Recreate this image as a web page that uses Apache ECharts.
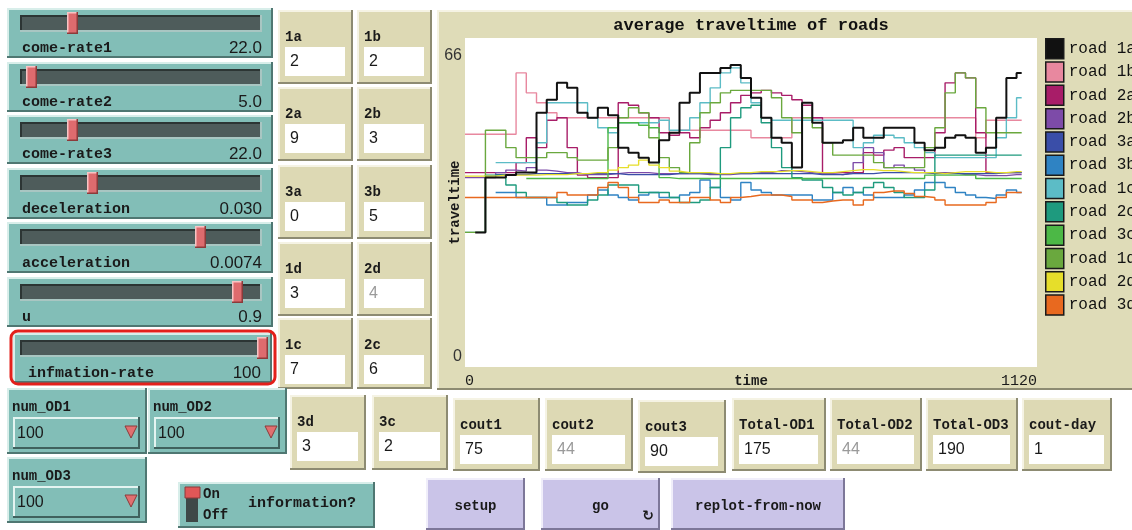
<!DOCTYPE html>
<html>
<head>
<meta charset="utf-8">
<title>average traveltime of roads</title>
<script src="https://cdn.jsdelivr.net/npm/echarts/dist/echarts.min.js"></script>
<style>
html, body { margin: 0; padding: 0; background: #fff; }
#main { width: 1132px; height: 530px; }
</style>
</head>
<body>
<div id="main"></div>
<script>
// time samples (ticks) of the plot
var times = [0, 20, 40, 60, 80, 100, 120, 140, 160, 180,
  200, 220, 240, 260, 280, 300, 320, 340, 360, 380,
  400, 420, 440, 460, 480, 500, 520, 540, 560, 580,
  600, 620, 640, 660, 680, 700, 720, 740, 760, 780,
  800, 820, 840, 860, 880, 900, 920, 940, 960, 980,
  1000, 1020, 1040, 1060, 1080, 1090];

var road1a = [null, 27, 38, 38, 38.5, 39, 39, 51, 53.6, 57,
  56, 51, 50, 52, 50.5, 44, 43, 42, 41, 45.5,
  47, 53, 55, 59, 59, 60, 60.6, 58, 54, 50,
  46, 45, 40, 53, 49, 45, 45, 45.5, 48, 46,
  46, 48, 48, 48, 45, 43.5, 44, 46, 46.5, 46,
  43, 44, 50, 58, 59, 59];
var road1b = [46.7, 46.7, 46.7, 46.7, 46.7, 59, 55, 53, 51, 50,
  50, 50, 50, 50, 50, 50, 50, 50, 50, 50,
  47, 47.5, 47.5, 47.5, 47.5, 47.5, 47.5, 47.5, 46, 46,
  46, 46, 50, 50, 50, 50, 50, 50, 50, 50,
  50, 50, 50, 50, 50, 50, 50, 50, 50, 50,
  46, 49.5, 49.5, 49.5, 49.5, 49.5];
var road2a = [39, 39, 39, 39, 39, 41, 46, 44, 49.5, 50,
  44, 38.5, 38, 38, 38, 53, 52.5, 51, 50, 47,
  46.5, 47, 46, 48, 49.5, 51, 53, 54.5, 55, 55.5,
  55, 54.5, 53.6, 52.5, 50, 39, 39, 39, 39, 43,
  42.5, 43.5, 44, 42, 42, 42, 47, 57, 59, 58,
  47, 39, 39, 39, 39, 39];
var road2b = [38, 38, 38, 39, 39.5, 39.3, 40, 39.5, 39.3, 39,
  39, 38.6, 38.6, 38.6, 38.8, 39, 39, 39, 38.8, 38.8,
  38.8, 38.8, 38.8, 38.6, 38.6, 38.6, 38.8, 38.8, 39, 39,
  39.4, 39.4, 39.2, 39, 38.8, 38.8, 38.6, 39, 41, 44,
  43, 40, 40.5, 40, 39.5, 39, 39, 39, 38.6, 38.6,
  38.4, 38.4, 38.4, 38.6, 38.6, 38.6];
var road3a = [null, null, null, 38.6, 38.6, 38.6, 38.8, 38.8, 38.8, 38.8,
  38.8, 38.8, 38.8, 38.8, 38.8, 38.6, 38.6, 38.6, 38.6, 38.6,
  38.8, 38.8, 38.8, 38.8, 38.8, 38.8, 38.8, 38.8, 38.8, 38.8,
  38.8, 38.8, 38.8, 38.8, 38.6, 38.6, 38.6, 38.8, 38.8, 38.8,
  39, 39, 39, 39, 39, 38.8, 38.8, 38.8, 38.8, 38.8,
  38.8, 38.8, 39, 39, 39, 39];
var road3b = [null, null, null, 35, 35, 34, 34, 34, 32.5, 32.5,
  33, 33, 34.5, 35.5, 34.5, 34, 33.5, 34.5, 35, 34,
  34, 34.5, 35, 37.5, 36, 34, 33.5, 37, 35.5, 35,
  34.5, 34.5, 34.5, 34.5, 33.5, 33.5, 35, 36, 35, 34.5,
  34, 34, 34, 34.5, 35.5, 37, 37, 36, 35, 34.5,
  34, 33.8, 34.5, 35.5, 35, 35];
var road1c = [null, null, null, 41, 41, 41, 41, 45, 53, 53,
  53, 53, 50, 48, 47, 49, 49, 49, 49, 49.5,
  47.5, 47.5, 50, 53, 56, 59, 60, 57, 53, 50,
  49.5, 49.5, 49.5, 49.5, 49.5, 49.5, 49.5, 49.5, 44, 45,
  46.5, 46.5, 46, 45, 44, 43, 42, 42, 42, 42,
  42, 42, 46, 50, 54, 54];
var road2c = [27, 27, 38.5, 38.5, 36.5, 35, 34, 34, 34, 33,
  32.5, 32.5, 33.5, 34.5, 36.5, 36.5, 36.5, 35, 35, 35,
  34, 33, 33, 33.5, 36, 44, 50, 52, 52.5, 49,
  44, 40, 38, 37.5, 37.5, 36, 35, 34.5, 35, 36,
  37, 36, 35, 34, 34, 35.5, 42.5, 42.5, 42.5, 42.5,
  42.5, 42.5, 42.5, 42.5, 42.5, 42.5];
var road3c = [null, null, null, null, null, null, 37.8, 37.8, 37.8, 37.8,
  37.8, 37.8, 37.8, 37.8, 48, 49, 49, 48.5, 48, 38,
  37.8, 37.8, 37.8, 37.8, 37.8, 37.8, 37.8, 37.8, 37.8, 37.8,
  37.8, 37.8, 37.8, 37.8, 37.8, 37.8, 37.8, 37.8, 37.8, 37.8,
  37.8, 37.8, 37.8, 37.8, 37.8, 38.5, 38.5, 38.5, 38.5, 38.5,
  37.8, 37.8, 37.8, 37.8, 37.8, 37.8];
var road1d = [27, 27, 47.5, 47.5, 44, 42, 42, 42, 43, 43,
  42, 41.5, 41.5, 41.5, 44, 50, 52, 51, 46, 42,
  40, 39, 45, 51, 53, 55, 55.5, 55.5, 55.5, 55.5,
  54, 50, 47, 50, 48, 45, 42.5, 42.5, 42.5, 42.5,
  41, 40, 40, 40, 40, 44, 48, 55, 59, 58,
  52, 47, 47, 47, 47, 47];
var road2d = [38.3, 38.3, 38.3, 38.5, 38.5, 38.5, 38.5, 38.6, 38.6, 38.6,
  38.8, 38.8, 39, 39, 39.5, 40, 40.5, 41.5, 40.5, 40,
  39.3, 39, 39, 39, 38.8, 38.8, 39, 39, 39.2, 39.2,
  39.2, 39.4, 39.4, 39.2, 39, 39, 39.2, 39.4, 39.6, 39.6,
  39.4, 39.4, 39.2, 39, 39, 39, 38.8, 39, 39.2, 39.2,
  39.2, 39, 39, 39.2, 39.2, 39.2];
var road3d = [34, 34, 34, 34, 34, 34, 34, 34, 34, 35,
  34.5, 34.5, 34.5, 36, 37, 36, 34, 33, 33, 33.5,
  33, 33, 34, 34, 33.5, 33, 34, 34.2, 34.5, 34.5,
  34.5, 34.2, 33.5, 33.5, 33, 33.3, 33.5, 33.5, 32.5, 33.5,
  35, 35.3, 35.3, 34.8, 34.2, 34, 33.5, 32.5, 32.5, 32.5,
  32.5, 33, 34, 35, 35, 35];

var roadNames = ['road 1a', 'road 1b', 'road 2a', 'road 2b', 'road 3a', 'road 3b',
  'road 1c', 'road 2c', 'road 3c', 'road 1d', 'road 2d', 'road 3d'];
var roadColors = ['#111111', '#e8889f', '#a81d68', '#7d4ba8', '#3a4ea8', '#2f83c3',
  '#5cbcc6', '#1e9a7e', '#4cb846', '#6aa83e', '#e6de2a', '#e8691f'];
var xTicks = [0, 1120];
var yTicks = [0, 66];

// interface widgets
var sliderLabels = ['come-rate1', 'come-rate2', 'come-rate3', 'deceleration', 'acceleration', 'u', 'infmation-rate'];
var sliderValues = ['22.0', '5.0', '22.0', '0.030', '0.0074', '0.9', '100'];
var sliderThumbs = [72, 31, 72, 92, 200, 237, 262];
var sliderBoxes = [[7, 8, 266, 50], [7, 62, 266, 50], [7, 115, 266, 49], [7, 168, 266, 51],
  [7, 222, 266, 51], [7, 277, 266, 50], [13, 333, 259, 50]];

var monitorLabels = ['1a', '1b', '2a', '2b', '3a', '3b', '1d', '2d', '1c', '2c'];
var monitorValues = ['2', '2', '9', '3', '0', '5', '3', '4', '7', '6'];
var lowLabels = ['3d', '3c', 'cout1', 'cout2', 'cout3', 'Total-OD1', 'Total-OD2', 'Total-OD3', 'cout-day'];
var lowValues = ['3', '2', '75', '44', '90', '175', '44', '190', '1'];
var lowBoxes = [[290, 395, 76, 75], [372, 395, 76, 75], [453, 398, 87, 73], [545, 398, 88, 73],
  [638, 400, 88, 73], [732, 398, 94, 73], [830, 398, 92, 73], [926, 398, 92, 73], [1022, 398, 90, 73]];

var MONO = '"Liberation Mono", "DejaVu Sans Mono", monospace';
var SANS = '"Liberation Sans", Arial, sans-serif';
var TEAL = '#82beb7';
var KHAKI = '#ddd9b4';
var LAV = '#cac4e8';

var g = [];
function bevel(x, y, w, h, fill, light, dark, lw) {
  lw = lw || 2;
  g.push({ type: 'rect', z: 0, shape: { x: x, y: y, width: w, height: h }, style: { fill: fill } });
  g.push({ type: 'polyline', z: 0, shape: { points: [[x + lw / 2, y + h], [x + lw / 2, y + lw / 2], [x + w, y + lw / 2]] },
    style: { stroke: light, lineWidth: lw, fill: null } });
  g.push({ type: 'polyline', z: 0, shape: { points: [[x, y + h - lw / 2], [x + w - lw / 2, y + h - lw / 2], [x + w - lw / 2, y]] },
    style: { stroke: dark, lineWidth: lw, fill: null } });
}
function label(x, y, txt, font, color, align) {
  g.push({ type: 'text', z: 1, x: x, y: y,
    style: { text: txt, font: font, fill: color || '#1a1a1a', align: align || 'left', verticalAlign: 'middle' } });
}
function monitor(b, lbl, val, gray) {
  bevel(b[0], b[1], b[2], b[3], KHAKI, '#f5f3e4', '#8d8b72');
  label(b[0] + 7, b[1] + 27, lbl, 'bold 14px ' + MONO);
  g.push({ type: 'rect', z: 0, shape: { x: b[0] + 7, y: b[1] + 37, width: b[2] - 15, height: 29 }, style: { fill: '#ffffff' } });
  label(b[0] + 12, b[1] + 52, val, '16px ' + SANS, gray ? '#9a9a9a' : '#1a1a1a');
}
function chooser(x, y, w, h, lbl, val) {
  bevel(x, y, w, h, TEAL, '#d8eeea', '#4f7772');
  label(x + 5, y + 19, lbl, 'bold 14px ' + MONO);
  bevel(x + 6, y + h - 37, w - 13, 32, TEAL, '#e4f4f1', '#3f615d');
  label(x + 10, y + h - 20, val, '16px ' + SANS);
  var cx = x + w - 16, cy = y + h - 22;
  g.push({ type: 'polygon', z: 1, shape: { points: [[cx - 6, cy - 6], [cx + 6, cy - 6], [cx, cy + 6]] },
    style: { fill: '#e07070', stroke: '#8c3a3a', lineWidth: 1 } });
}
function button(x, y, w, h, lbl) {
  bevel(x, y, w, h, LAV, '#f0eefa', '#7d7799');
  label(x + w / 2, y + h / 2 + 2, lbl, 'bold 14px ' + MONO, '#1a1a1a', 'center');
}

// sliders
sliderLabels.forEach(function (name, i) {
  var b = sliderBoxes[i];
  bevel(b[0], b[1], b[2], b[3], TEAL, '#d8eeea', '#4f7772');
  bevel(20, b[1] + 7, 242, 17, '#4e5c5b', '#2c3534', '#a9c6c2');
  bevel(sliderThumbs[i] - 5, b[1] + 4, 11, 22, '#de6b6e', '#f7c4c4', '#8c3a3a', 1.5);
  label(b[0] + 15, b[1] + b[3] - 10, name, 'bold 15px ' + MONO);
  label(b[0] + b[2] - 11, b[1] + b[3] - 10, sliderValues[i], '17px ' + SANS, '#1a1a1a', 'right');
});
g.push({ type: 'rect', z: 2, shape: { x: 11, y: 331, width: 264, height: 53, r: 7 },
  style: { fill: null, stroke: '#e3201b', lineWidth: 3 } });

// monitor grid
var colX = [278, 357];
var rowY = [10, 87, 165, 242, 318];
monitorLabels.forEach(function (lbl, i) {
  var r = Math.floor(i / 2), c = i % 2;
  monitor([colX[c], rowY[r], 75, r === 4 ? 71 : 74], lbl, monitorValues[i], lbl === '2d');
});
lowLabels.forEach(function (lbl, i) {
  monitor(lowBoxes[i], lbl, lowValues[i], lbl === 'cout2' || lbl === 'Total-OD2');
});

// choosers, switch, buttons
chooser(7, 388, 140, 66, 'num_OD1', '100');
chooser(148, 388, 139, 66, 'num_OD2', '100');
chooser(7, 457, 140, 66, 'num_OD3', '100');
bevel(178, 482, 197, 46, TEAL, '#d8eeea', '#4f7772');
g.push({ type: 'rect', z: 1, shape: { x: 186, y: 488, width: 12, height: 34 }, style: { fill: '#3e4847' } });
g.push({ type: 'rect', z: 1, shape: { x: 185, y: 487, width: 15, height: 11 }, style: { fill: '#e05757', stroke: '#8c3a3a', lineWidth: 1 } });
label(203, 494, 'On', 'bold 14px ' + MONO);
label(203, 515, 'Off', 'bold 14px ' + MONO);
label(248, 503, 'information?', 'bold 15px ' + MONO);
button(426, 478, 99, 52, 'setup');
button(541, 478, 119, 52, 'go');
label(648, 516, '\u21bb', 'bold 14px "DejaVu Sans"', '#1a1a1a', 'center');
button(671, 478, 174, 52, 'replot-from-now');

// plot panel
bevel(437, 10, 700, 380, '#dfdcb8', '#f5f3e4', '#8d8b72');
g.push({ type: 'rect', z: 0, shape: { x: 465, y: 38, width: 572, height: 329 }, style: { fill: '#ffffff' } });
label(751, 26, 'average traveltime of roads', 'bold 17px ' + MONO, '#111', 'center');

var roadData = [road1a, road1b, road2a, road2b, road3a, road3b, road1c, road2c, road3c, road1d, road2d, road3d];

var chart = echarts.init(document.getElementById('main'));
chart.setOption({
  animation: false,
  backgroundColor: '#ffffff',
  graphic: { elements: g },
  grid: { left: 465, top: 38, width: 572, height: 329, show: false, outerBoundsMode: 'none' },
  legend: {
    orient: 'vertical',
    left: 1045,
    top: 38,
    padding: 0,
    itemWidth: 18,
    itemHeight: 20,
    itemGap: 1.8,
    icon: 'rect',
    selectedMode: false,
    itemStyle: { borderColor: '#1a1a1a', borderWidth: 1.5 },
    textStyle: { fontFamily: MONO, fontSize: 16, lineHeight: 18, color: '#111' },
    data: roadNames
  },
  xAxis: {
    type: 'value',
    min: xTicks[0],
    max: xTicks[1],
    interval: xTicks[1] - xTicks[0],
    axisLine: { show: false },
    axisTick: { show: false },
    splitLine: { show: false },
    name: 'time',
    nameLocation: 'middle',
    nameGap: 7,
    nameMoveOverlap: false,
    nameTextStyle: { fontFamily: MONO, fontWeight: 'bold', fontSize: 14, color: '#1a1a1a' },
    axisLabel: {
      margin: 7, alignMinLabel: 'left', alignMaxLabel: 'right',
      fontFamily: MONO, fontSize: 15, color: '#1a1a1a',
      formatter: function (v) { return String(v); }
    }
  },
  yAxis: {
    type: 'value',
    min: yTicks[0],
    max: yTicks[1],
    interval: yTicks[1] - yTicks[0],
    axisLine: { show: false },
    axisTick: { show: false },
    splitLine: { show: false },
    name: 'traveltime',
    nameLocation: 'middle',
    nameRotate: 90,
    nameGap: 3,
    nameMoveOverlap: false,
    nameTextStyle: { fontFamily: MONO, fontWeight: 'bold', fontSize: 14, color: '#1a1a1a' },
    axisLabel: {
      margin: 3,
      formatter: function (v) { return v === yTicks[1] ? '{t|' + v + '}' : '{b|' + v + '}'; },
      rich: {
        t: { padding: [36, 0, 0, 0], fontFamily: SANS, fontSize: 16, color: '#333' },
        b: { padding: [0, 0, 20, 0], fontFamily: SANS, fontSize: 16, color: '#333' }
      }
    }
  },
  series: roadData.map(function (arr, i) {
    return {
      name: roadNames[i],
      type: 'line',
      step: 'end',
      symbol: 'none',
      showSymbol: false,
      z: i === 0 ? 10 : 3,
      color: roadColors[i],
      itemStyle: { color: roadColors[i] },
      lineStyle: { width: i === 0 ? 2 : 1.4, color: roadColors[i] },
      data: times.map(function (t, j) { return [t, arr[j]]; })
    };
  })
});
</script>
</body>
</html>
